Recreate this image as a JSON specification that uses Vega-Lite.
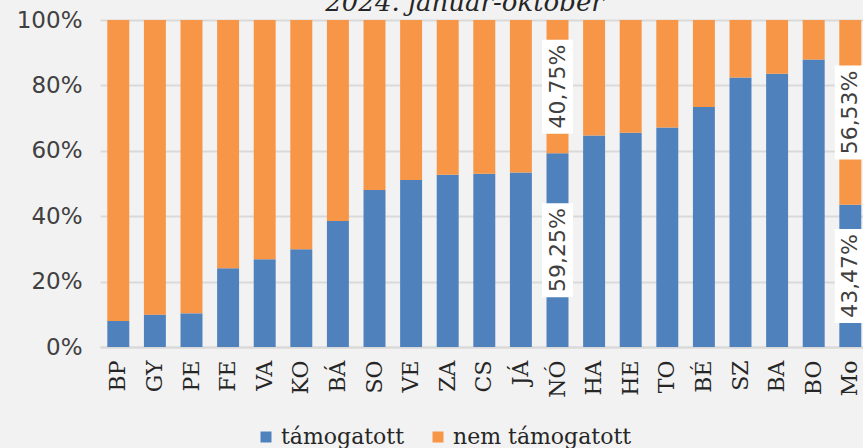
{
  "$schema": "https://vega.github.io/schema/vega-lite/v6.json",
  "width": 763,
  "height": 327,
  "autosize": "none",
  "padding": {"left": 100, "top": 20, "right": 0, "bottom": 101},
  "background": "#f2f2f2",
  "config": {"view": {"stroke": null}},
  "title": {
    "text": "2024. január-október",
    "font": "DejaVu Serif",
    "fontStyle": "italic",
    "fontWeight": "normal",
    "fontSize": 26,
    "color": "#262626",
    "anchor": "middle",
    "dx": -17,
    "dy": 23,
    "offset": -5,
    "baseline": "alphabetic"
  },
  "data": {
    "values": [
      {"region": "BP", "series": "támogatott", "value": 7.95},
      {"region": "BP", "series": "nem támogatott", "value": 92.05},
      {"region": "GY", "series": "támogatott", "value": 9.9},
      {"region": "GY", "series": "nem támogatott", "value": 90.1},
      {"region": "PE", "series": "támogatott", "value": 10.3},
      {"region": "PE", "series": "nem támogatott", "value": 89.7},
      {"region": "FE", "series": "támogatott", "value": 24.1},
      {"region": "FE", "series": "nem támogatott", "value": 75.9},
      {"region": "VA", "series": "támogatott", "value": 26.8},
      {"region": "VA", "series": "nem támogatott", "value": 73.2},
      {"region": "KO", "series": "támogatott", "value": 29.9},
      {"region": "KO", "series": "nem támogatott", "value": 70.1},
      {"region": "BÁ", "series": "támogatott", "value": 38.5},
      {"region": "BÁ", "series": "nem támogatott", "value": 61.5},
      {"region": "SO", "series": "támogatott", "value": 48.0},
      {"region": "SO", "series": "nem támogatott", "value": 52.0},
      {"region": "VE", "series": "támogatott", "value": 51.1},
      {"region": "VE", "series": "nem támogatott", "value": 48.9},
      {"region": "ZA", "series": "támogatott", "value": 52.7},
      {"region": "ZA", "series": "nem támogatott", "value": 47.3},
      {"region": "CS", "series": "támogatott", "value": 53.0},
      {"region": "CS", "series": "nem támogatott", "value": 47.0},
      {"region": "JÁ", "series": "támogatott", "value": 53.4},
      {"region": "JÁ", "series": "nem támogatott", "value": 46.6},
      {"region": "NÓ", "series": "támogatott", "value": 59.25},
      {"region": "NÓ", "series": "nem támogatott", "value": 40.75},
      {"region": "HA", "series": "támogatott", "value": 64.7},
      {"region": "HA", "series": "nem támogatott", "value": 35.3},
      {"region": "HE", "series": "támogatott", "value": 65.5},
      {"region": "HE", "series": "nem támogatott", "value": 34.5},
      {"region": "TO", "series": "támogatott", "value": 67.1},
      {"region": "TO", "series": "nem támogatott", "value": 32.9},
      {"region": "BÉ", "series": "támogatott", "value": 73.4},
      {"region": "BÉ", "series": "nem támogatott", "value": 26.6},
      {"region": "SZ", "series": "támogatott", "value": 82.4},
      {"region": "SZ", "series": "nem támogatott", "value": 17.6},
      {"region": "BA", "series": "támogatott", "value": 83.6},
      {"region": "BA", "series": "nem támogatott", "value": 16.4},
      {"region": "BO", "series": "támogatott", "value": 87.9},
      {"region": "BO", "series": "nem támogatott", "value": 12.1},
      {"region": "Mo", "series": "támogatott", "value": 43.47},
      {"region": "Mo", "series": "nem támogatott", "value": 56.53}
    ]
  },
  "encoding": {
    "x": {
      "field": "region",
      "type": "nominal",
      "sort": null,
      "scale": {"range": [0, 768.6], "paddingInner": 0.4, "paddingOuter": 0.2},
      "axis": {
        "title": null,
        "labelAngle": -90,
        "labelAlign": "right",
        "labelBaseline": "middle",
        "labelFont": "DejaVu Serif",
        "labelFontSize": 22,
        "labelColor": "#262626",
        "labelPadding": 13,
        "ticks": false,
        "domainColor": "#d9d9d9",
        "domainWidth": 2
      }
    },
    "y": {
      "field": "value",
      "type": "quantitative",
      "stack": "zero",
      "scale": {"domain": [0, 100]},
      "axis": {
        "title": null,
        "values": [0, 20, 40, 60, 80, 100],
        "labelExpr": "datum.value + '%'",
        "labelFont": "DejaVu Sans",
        "labelFontSize": 23,
        "labelColor": "#404040",
        "labelPadding": 18,
        "ticks": false,
        "domain": false,
        "grid": true,
        "gridColor": "#d9d9d9",
        "gridWidth": 2
      }
    }
  },
  "layer": [
    {
      "mark": {"type": "bar"},
      "encoding": {
        "color": {
          "field": "series",
          "type": "nominal",
          "scale": {"domain": ["támogatott", "nem támogatott"], "range": ["#4f81bd", "#f79646"]},
          "legend": {
            "orient": "none",
            "legendX": 155,
            "legendY": 406,
            "direction": "horizontal",
            "title": null,
            "symbolType": "square",
            "symbolSize": 121,
            "symbolStrokeWidth": 0,
            "labelFont": "DejaVu Serif",
            "labelFontSize": 22,
            "labelColor": "#262626",
            "labelOffset": 4,
            "columnPadding": 22,
            "padding": 0,
            "labelLimit": 300
          }
        },
        "order": {"field": "series", "sort": "descending"}
      }
    },
    {
      "transform": [
        {"filter": "indexof(['NÓ', 'Mo'], datum.region) >= 0"},
        {"stack": "value", "groupby": ["region"], "sort": [{"field": "series", "order": "descending"}], "as": ["v0", "v1"]},
        {"calculate": "(datum.v0 + datum.v1) / 2", "as": "mid"}
      ],
      "mark": {"type": "point", "shape": "M-0.33,-1H0.33V1H-0.33Z", "size": 8836, "filled": true, "fill": "white", "opacity": 1, "strokeWidth": 0},
      "encoding": {
        "y": {"field": "mid", "type": "quantitative", "stack": null}
      }
    },
    {
      "transform": [
        {"filter": "indexof(['NÓ', 'Mo'], datum.region) >= 0"},
        {"stack": "value", "groupby": ["region"], "sort": [{"field": "series", "order": "descending"}], "as": ["v0", "v1"]},
        {"calculate": "(datum.v0 + datum.v1) / 2", "as": "mid"},
        {"calculate": "replace(format(datum.value, '.2f'), '.', ',') + '%'", "as": "lbl"}
      ],
      "mark": {"type": "text", "angle": 270, "font": "DejaVu Sans", "fontSize": 22, "fill": "#404040", "align": "center", "baseline": "middle"},
      "encoding": {
        "y": {"field": "mid", "type": "quantitative", "stack": null},
        "text": {"field": "lbl", "type": "nominal"}
      }
    }
  ]
}
